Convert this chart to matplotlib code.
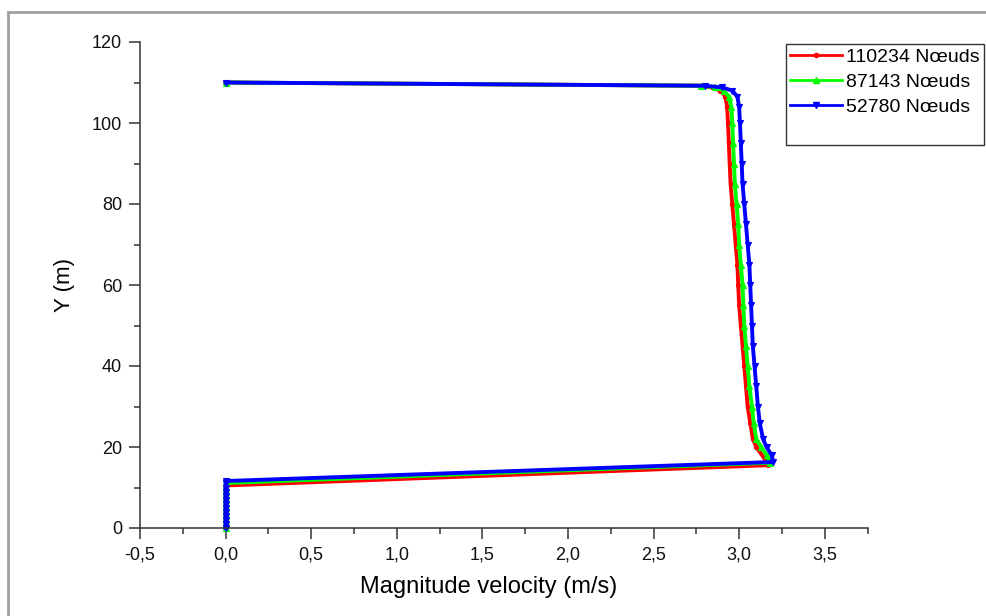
import matplotlib
matplotlib.use("Agg")
import matplotlib.pyplot as plt
from matplotlib.ticker import MultipleLocator, FuncFormatter
from matplotlib.patches import Rectangle
from matplotlib.lines import Line2D

plt.rcParams['font.family'] = ['Liberation Sans', 'DejaVu Sans']

labels = ["110234 Nœuds", "87143 Nœuds", "52780 Nœuds"]
colors = ["#ff0000", "#00ff00", "#0000ff"]
markers = ["o", "^", "v"]

# wall segment (x = 0), then slanted bottom, vertical profile, top
red_x = [0, 0, 0, 0, 0, 0, 0, 0, 0, 0, 0, 0, 3.17, 3.15, 3.10, 3.08, 3.065, 3.05, 3.04, 3.03, 3.02, 3.01, 3.0,
         2.995, 2.99, 2.98, 2.97, 2.96, 2.95, 2.945, 2.94, 2.935, 2.93, 2.92, 2.89, 2.84, 2.77, 0.0]
red_y = [0, 1, 2, 3, 4, 5, 6, 7, 8, 9, 10, 10.5, 15.5, 17, 20, 22, 26, 30, 35, 40, 45, 50, 55,
         60, 65, 70, 75, 80, 85, 90, 95, 100, 104, 106.5, 108, 108.8, 109.2, 110]

green_x = [0, 0, 0, 0, 0, 0, 0, 0, 0, 0, 0, 0, 3.18, 3.16, 3.13, 3.10, 3.085, 3.075, 3.06, 3.05, 3.04, 3.03, 3.025,
           3.02, 3.01, 3.0, 2.995, 2.985, 2.975, 2.97, 2.965, 2.96, 2.955, 2.94, 2.91, 2.86, 2.78, 0.0]
green_y = [0, 1, 2, 3, 4, 5, 6, 7, 8, 9, 10, 11.1, 16.1, 18, 20, 22, 26, 30, 35, 40, 45, 50, 55,
           60, 65, 70, 75, 80, 85, 90, 95, 100, 104, 106.5, 108, 108.8, 109.2, 110]

blue_x = [0, 0, 0, 0, 0, 0, 0, 0, 0, 0, 0, 0, 0, 3.20, 3.19, 3.16, 3.14, 3.12, 3.11, 3.10, 3.09, 3.08, 3.075, 3.07,
          3.065, 3.06, 3.05, 3.04, 3.03, 3.02, 3.015, 3.01, 3.005, 3.0, 2.99, 2.96, 2.90, 2.80, 0.0]
blue_y = [0, 1, 2, 3, 4, 5, 6, 7, 8, 9, 10, 11, 11.6, 16.3, 18, 20, 22, 26, 30, 35, 40, 45, 50, 55,
          60, 65, 70, 75, 80, 85, 90, 95, 100, 104, 106.5, 108, 108.8, 109.2, 110]

series_x = [red_x, green_x, blue_x]
series_y = [red_y, green_y, blue_y]
marker_sizes = [3, 4, 4]

fig = plt.figure(figsize=(9.87, 6.16), dpi=100)
ax = fig.add_axes([140 / 987, 1 - 528 / 616, (867.5 - 140) / 987, (528 - 42) / 616])

for xs, ys, c, m, ms, lab in zip(series_x, series_y, colors, markers, marker_sizes, labels):
    ax.plot(xs, ys, color=c, marker=m, markersize=ms, linewidth=2.8, label=lab,
            markeredgewidth=0.8, clip_on=False)

ax.set_xlim(-0.5, 3.75)
ax.set_ylim(0, 120)
ax.xaxis.set_major_locator(MultipleLocator(0.5))
ax.xaxis.set_minor_locator(MultipleLocator(0.25))
ax.yaxis.set_major_locator(MultipleLocator(20))
ax.yaxis.set_minor_locator(MultipleLocator(10))
ax.xaxis.set_major_formatter(FuncFormatter(lambda v, p: f"{v:.1f}".replace(".", ",").replace("\u2212", "-")))
ax.yaxis.set_major_formatter(FuncFormatter(lambda v, p: f"{v:.0f}"))

for s in ["top", "right"]:
    ax.spines[s].set_visible(False)
for s in ["left", "bottom"]:
    ax.spines[s].set_color("#333333")
    ax.spines[s].set_linewidth(1.1)

ax.tick_params(which="major", direction="out", length=8, width=1.1, color="#333333",
               labelsize=13, pad=5, labelcolor="#111111")
ax.tick_params(which="minor", direction="out", length=4, width=1.1, color="#333333")

ax.set_xlabel("Magnitude velocity (m/s)", fontsize=17)
ax.xaxis.set_label_coords((489 - 140) / 727.5, -0.098)
ax.set_ylabel("Y (m)", fontsize=16, labelpad=12)

handles = [Line2D([], [], color=c, marker=m, markersize=ms, linewidth=2.0)
           for c, m, ms in zip(colors, markers, marker_sizes)]
handles.append(Line2D([], [], color="none"))
leg = fig.legend(handles, labels + [" "], loc="upper left", bbox_to_anchor=(786 / 987, 1 - 44 / 616),
                 frameon=True, fancybox=False, shadow=False, fontsize=14, handlelength=2.7,
                 handletextpad=0.2, borderpad=0.2, labelspacing=0.4, borderaxespad=0)
leg.texts[-1].set_fontsize(10)
leg.get_frame().set_edgecolor("black")
leg.get_frame().set_linewidth(1.0)

# outer grey frame
fig.patches.append(Rectangle((8 / 987, -0.05), 1.1, 1 - 12 / 616 + 0.05, transform=fig.transFigure,
                             fill=False, edgecolor="#a0a0a0", linewidth=2.0, zorder=-1))

fig.savefig("out.png", dpi=100)
